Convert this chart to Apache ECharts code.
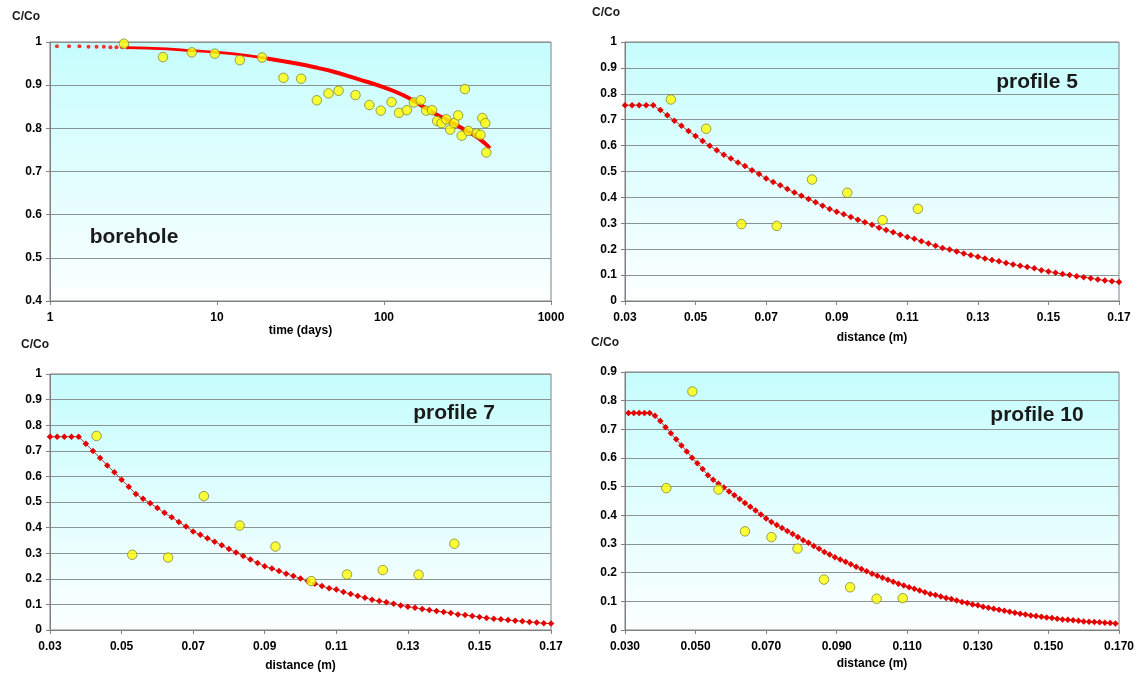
<!DOCTYPE html>
<html>
<head>
<meta charset="utf-8">
<title>C/Co – borehole and profiles</title>
<script src="https://cdn.jsdelivr.net/npm/echarts@6/dist/echarts.min.js"></script>
<style>
  html, body { margin: 0; padding: 0; background: #ffffff; }
  #chart { width: 1145px; height: 677px; }
</style>
</head>
<body>
<div id="chart"></div>
<script>
// ---- borehole: measured C/Co over time (days) ----
const boreholeTime = [2.77, 4.75, 7.06, 9.7, 13.7, 18.6, 25.0, 31.9, 39.6, 46.5, 53.5, 67.5, 81.7, 95.6, 111, 123, 137, 151, 166, 179, 194, 208, 221, 236, 249, 263, 278, 292, 305, 320, 359, 378, 388, 404, 410];
const boreholeConc = [0.996, 0.965, 0.976, 0.973, 0.958, 0.964, 0.917, 0.915, 0.865, 0.881, 0.887, 0.877, 0.854, 0.841, 0.861, 0.836, 0.842, 0.860, 0.865, 0.841, 0.842, 0.817, 0.812, 0.821, 0.797, 0.812, 0.830, 0.783, 0.891, 0.794, 0.788, 0.785, 0.824, 0.812, 0.744];

// borehole model: sparse early points, then the continuous curve
const boreholeModelDotTime = [1.1, 1.3, 1.5, 1.7, 1.9, 2.1, 2.3, 2.5, 2.7, 2.9];
const boreholeModelDotConc = [0.990, 0.990, 0.990, 0.989, 0.989, 0.989, 0.988, 0.988, 0.988, 0.987];
const boreholeModelTime = [2.9, 5, 7, 10, 15, 20, 30, 40, 50, 70, 100, 130, 150, 200, 250, 300, 350, 400, 430];
const boreholeModelConc = [0.987, 0.984, 0.980, 0.976, 0.969, 0.962, 0.950, 0.940, 0.931, 0.914, 0.895, 0.877, 0.864, 0.835, 0.815, 0.798, 0.783, 0.766, 0.754];

// ---- model sampling positions (m), shared by profiles 5 and 7 ----
const modelDist = [0.030, 0.032, 0.034, 0.036, 0.038, 0.040, 0.042, 0.044, 0.046, 0.048,
  0.050, 0.052, 0.054, 0.056, 0.058, 0.060, 0.062, 0.064, 0.066, 0.068,
  0.070, 0.072, 0.074, 0.076, 0.078, 0.080, 0.082, 0.084, 0.086, 0.088,
  0.090, 0.092, 0.094, 0.096, 0.098, 0.100, 0.102, 0.104, 0.106, 0.108,
  0.110, 0.112, 0.114, 0.116, 0.118, 0.120, 0.122, 0.124, 0.126, 0.128,
  0.130, 0.132, 0.134, 0.136, 0.138, 0.140, 0.142, 0.144, 0.146, 0.148,
  0.150, 0.152, 0.154, 0.156, 0.158, 0.160, 0.162, 0.164, 0.166, 0.168, 0.170];

// ---- profile 5 ----
const profile5Dist = [0.043, 0.053, 0.063, 0.073, 0.083, 0.093, 0.103, 0.113];
const profile5Conc = [0.778, 0.665, 0.297, 0.290, 0.469, 0.418, 0.312, 0.356];
const profile5Model = [0.756, 0.756, 0.756, 0.756, 0.756, 0.737, 0.717, 0.696, 0.677, 0.656,
  0.637, 0.618, 0.599, 0.582, 0.565, 0.550, 0.535, 0.521, 0.505, 0.490,
  0.473, 0.459, 0.447, 0.432, 0.419, 0.406, 0.394, 0.381, 0.368, 0.355,
  0.345, 0.335, 0.324, 0.314, 0.304, 0.294, 0.283, 0.274, 0.265, 0.256,
  0.247, 0.240, 0.231, 0.222, 0.213, 0.205, 0.199, 0.191, 0.183, 0.177,
  0.171, 0.164, 0.158, 0.153, 0.147, 0.141, 0.136, 0.131, 0.126, 0.119,
  0.114, 0.109, 0.104, 0.100, 0.096, 0.092, 0.088, 0.083, 0.079, 0.076, 0.073];

// ---- profile 7 ----
const profile7Dist = [0.043, 0.053, 0.063, 0.073, 0.083, 0.093, 0.103, 0.113, 0.123, 0.133, 0.143];
const profile7Conc = [0.758, 0.294, 0.283, 0.523, 0.408, 0.326, 0.191, 0.217, 0.234, 0.216, 0.337];
const profile7Model = [0.755, 0.755, 0.755, 0.755, 0.755, 0.728, 0.699, 0.672, 0.643, 0.616,
  0.587, 0.560, 0.531, 0.513, 0.495, 0.477, 0.458, 0.440, 0.422, 0.404,
  0.385, 0.372, 0.358, 0.345, 0.331, 0.316, 0.303, 0.289, 0.275, 0.262,
  0.249, 0.240, 0.230, 0.220, 0.211, 0.201, 0.191, 0.181, 0.172, 0.163,
  0.158, 0.148, 0.141, 0.133, 0.126, 0.118, 0.113, 0.108, 0.103, 0.096,
  0.091, 0.087, 0.082, 0.078, 0.074, 0.070, 0.066, 0.061, 0.059, 0.055,
  0.051, 0.047, 0.044, 0.042, 0.039, 0.036, 0.034, 0.031, 0.029, 0.026, 0.025];

// ---- profile 10 ----
const profile10Dist = [0.0417, 0.0491, 0.0565, 0.0640, 0.0715, 0.0789, 0.0864, 0.0938, 0.1013, 0.1087];
const profile10Conc = [0.495, 0.832, 0.490, 0.344, 0.324, 0.284, 0.176, 0.149, 0.109, 0.111];
const profile10ModelDist = [0.0310, 0.0325, 0.0340, 0.0355, 0.0370, 0.0385, 0.0400, 0.0415, 0.0430, 0.0445,
  0.0460, 0.0475, 0.0490, 0.0505, 0.0520, 0.0535, 0.0550, 0.0565, 0.0580, 0.0595,
  0.0610, 0.0625, 0.0640, 0.0655, 0.0670, 0.0685, 0.0700, 0.0715, 0.0730, 0.0745,
  0.0760, 0.0775, 0.0790, 0.0805, 0.0820, 0.0835, 0.0850, 0.0865, 0.0880, 0.0895,
  0.0910, 0.0925, 0.0940, 0.0955, 0.0970, 0.0985, 0.1000, 0.1015, 0.1030, 0.1045,
  0.1060, 0.1075, 0.1090, 0.1105, 0.1120, 0.1135, 0.1150, 0.1165, 0.1180, 0.1195,
  0.1210, 0.1225, 0.1240, 0.1255, 0.1270, 0.1285, 0.1300, 0.1315, 0.1330, 0.1345,
  0.1360, 0.1375, 0.1390, 0.1405, 0.1420, 0.1435, 0.1450, 0.1465, 0.1480, 0.1495,
  0.1510, 0.1525, 0.1540, 0.1555, 0.1570, 0.1585, 0.1600, 0.1615, 0.1630, 0.1645,
  0.1660, 0.1675, 0.1690];
const profile10Model = [0.757, 0.757, 0.757, 0.757, 0.757, 0.747, 0.729, 0.707, 0.686, 0.665,
  0.644, 0.623, 0.601, 0.582, 0.562, 0.540, 0.524, 0.510, 0.497, 0.483,
  0.470, 0.457, 0.443, 0.430, 0.417, 0.403, 0.389, 0.377, 0.366, 0.356,
  0.345, 0.335, 0.324, 0.313, 0.304, 0.293, 0.283, 0.272, 0.263, 0.254,
  0.246, 0.238, 0.229, 0.221, 0.213, 0.205, 0.196, 0.189, 0.182, 0.175,
  0.168, 0.161, 0.155, 0.149, 0.144, 0.138, 0.132, 0.126, 0.122, 0.117,
  0.112, 0.108, 0.103, 0.098, 0.094, 0.089, 0.086, 0.081, 0.078, 0.074,
  0.071, 0.067, 0.064, 0.060, 0.057, 0.054, 0.051, 0.049, 0.046, 0.044,
  0.042, 0.039, 0.037, 0.036, 0.034, 0.032, 0.030, 0.029, 0.028, 0.027,
  0.025, 0.024, 0.023];

// ---- tick labels ----
const timeTicks = [1, 10, 100, 1000];
const distTicks = [0.03, 0.05, 0.07, 0.09, 0.11, 0.13, 0.15, 0.17];

const pairs = (xs, ys) => xs.map((x, i) => [x, ys[i]]);

const FONT = '"Liberation Sans", Arial, Helvetica, sans-serif';
const AXIS_GREY = '#808080';
const GRID_GREY = '#8a9494';

const plotFill = () => new echarts.graphic.LinearGradient(0, 0, 0, 1, [
  { offset: 0, color: '#c6fdfd' },
  { offset: 1, color: '#fcffff' }
]);

const labelStyle = { color: '#000', fontFamily: FONT, fontWeight: 'bold', fontSize: 12 };

function gridBox(left, top, width, height) {
  return {
    left, top, width, height,
    show: true,
    backgroundColor: plotFill(),
    borderColor: AXIS_GREY,
    borderWidth: 1
  };
}

function yAxisFor(gridIndex, min, max) {
  return {
    gridIndex, type: 'value', min, max, interval: 0.1,
    axisLine: { show: true, onZero: false, lineStyle: { color: AXIS_GREY, width: 1 } },
    axisTick: { show: true, length: 4, lineStyle: { color: AXIS_GREY } },
    axisLabel: Object.assign({ margin: 8, formatter: v => String(Math.round(v * 10) / 10) }, labelStyle),
    splitLine: { show: true, lineStyle: { color: GRID_GREY, width: 1 } }
  };
}

function distAxisFor(gridIndex, digits, nameGap) {
  return {
    gridIndex, type: 'value', min: 0.03, max: 0.17,
    axisLine: { show: true, onZero: false, lineStyle: { color: AXIS_GREY, width: 1 } },
    axisTick: { show: true, length: 4, lineStyle: { color: AXIS_GREY }, customValues: distTicks },
    axisLabel: Object.assign({ margin: 11, customValues: distTicks, formatter: v => v.toFixed(digits) }, labelStyle),
    splitLine: { show: false },
    name: 'distance (m)', nameLocation: 'middle', nameGap,
    nameTextStyle: { color: '#000', fontFamily: FONT, fontWeight: 'bold', fontSize: 12 }
  };
}

function measured(xAxisIndex, xs, ys) {
  return {
    type: 'scatter', xAxisIndex, yAxisIndex: xAxisIndex,
    data: pairs(xs, ys), symbol: 'circle', symbolSize: 9.5, z: 5,
    itemStyle: { color: '#ffff00', borderColor: '#85853a', borderWidth: 1 },
    silent: true
  };
}

function profileModel(xAxisIndex, xs, ys) {
  return {
    type: 'line', xAxisIndex, yAxisIndex: xAxisIndex,
    data: pairs(xs, ys), showSymbol: true, symbol: 'diamond', symbolSize: 6.5,
    itemStyle: { color: '#e60000' },
    lineStyle: { color: '#a04848', width: 1 },
    z: 3, silent: true, animation: false
  };
}

const boreholeLine = pairs(boreholeModelTime, boreholeModelConc);
const boreholeLineEarly = boreholeLine.filter(p => p[0] <= 20);
const boreholeLineLate = boreholeLine.filter(p => p[0] >= 20);

const textEl = (x, y, text, size) => ({
  type: 'text', x, y, z: 100,
  style: {
    text, fill: '#1a1a1a', font: 'bold ' + size + 'px ' + FONT,
    textAlign: 'center', textVerticalAlign: 'middle'
  }
});

const option = {
  animation: false,
  backgroundColor: '#ffffff',
  grid: [
    gridBox(50, 42, 501, 259),
    gridBox(625, 42, 494, 259),
    gridBox(50, 374, 501, 256),
    gridBox(625, 372, 494, 258)
  ],
  xAxis: [
    {
      gridIndex: 0, type: 'log', logBase: 10, min: 1, max: 1000,
      axisLine: { show: true, onZero: false, lineStyle: { color: AXIS_GREY, width: 1 } },
      axisTick: { show: true, length: 4, lineStyle: { color: AXIS_GREY }, customValues: timeTicks },
      axisLabel: Object.assign({ margin: 11, customValues: timeTicks, formatter: v => String(Math.round(v)) }, labelStyle),
      minorTick: { show: false },
      splitLine: { show: false },
      name: 'time (days)', nameLocation: 'middle', nameGap: 22,
      nameTextStyle: { color: '#000', fontFamily: FONT, fontWeight: 'bold', fontSize: 12 }
    },
    distAxisFor(1, 2, 31),
    distAxisFor(2, 2, 30),
    distAxisFor(3, 3, 28)
  ],
  yAxis: [
    yAxisFor(0, 0.4, 1),
    yAxisFor(1, 0, 1),
    yAxisFor(2, 0, 1),
    yAxisFor(3, 0, 0.9)
  ],
  series: [
    // borehole model
    {
      type: 'scatter', xAxisIndex: 0, yAxisIndex: 0,
      data: pairs(boreholeModelDotTime, boreholeModelDotConc),
      symbol: 'circle', symbolSize: 4, itemStyle: { color: '#ff0000' }, z: 3, silent: true
    },
    {
      type: 'line', xAxisIndex: 0, yAxisIndex: 0, data: boreholeLineEarly,
      smooth: true, showSymbol: false, lineStyle: { color: '#ff0000', width: 2.6 }, z: 3, silent: true
    },
    {
      type: 'line', xAxisIndex: 0, yAxisIndex: 0, data: boreholeLineLate,
      smooth: true, showSymbol: false, lineStyle: { color: '#ff0000', width: 4 }, z: 3, silent: true
    },
    measured(0, boreholeTime, boreholeConc),
    // profile 5
    profileModel(1, modelDist, profile5Model),
    measured(1, profile5Dist, profile5Conc),
    // profile 7
    profileModel(2, modelDist, profile7Model),
    measured(2, profile7Dist, profile7Conc),
    // profile 10
    profileModel(3, profile10ModelDist, profile10Model),
    measured(3, profile10Dist, profile10Conc)
  ],
  graphic: [
    textEl(26, 17, 'C/Co', 12),
    textEl(606, 13, 'C/Co', 12),
    textEl(35, 345, 'C/Co', 12),
    textEl(605, 343, 'C/Co', 12),
    textEl(134, 237, 'borehole', 21),
    textEl(1037, 82, 'profile 5', 21),
    textEl(454, 413, 'profile 7', 21),
    textEl(1037, 415, 'profile 10', 21)
  ]
};

const chart = echarts.init(document.getElementById('chart'), null, { renderer: 'canvas' });
chart.setOption(option);
</script>
</body>
</html>
